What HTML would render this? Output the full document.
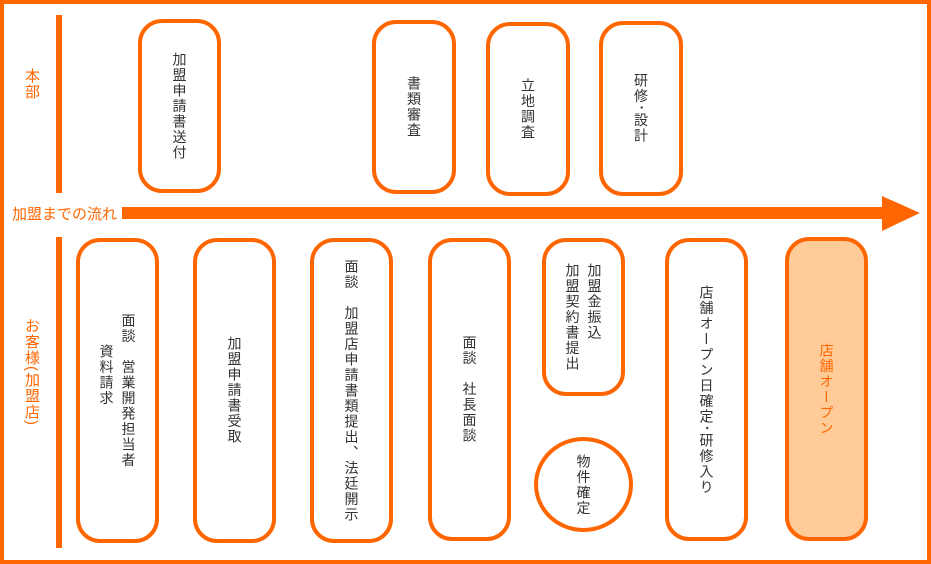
<!DOCTYPE html>
<html><head><meta charset="utf-8"><style>
html,body{margin:0;padding:0;}
body{width:931px;height:564px;position:relative;overflow:hidden;background:#fff;font-family:"Liberation Sans","Noto Sans CJK JP",sans-serif;}
.frame{position:absolute;left:0;top:0;width:931px;height:564px;box-sizing:border-box;border:4px solid #ff6600;}
.vl{position:absolute;left:56px;width:6px;background:#ff6600;}
.b{position:absolute;box-sizing:border-box;border:4px solid #ff6600;border-radius:24px;background:#fff;display:flex;align-items:center;justify-content:center;}
.t{writing-mode:vertical-rl;font-size:14px;line-height:22px;color:#333;letter-spacing:1.5px;white-space:pre;}
.lab{position:absolute;color:#ff6600;font-size:15px;writing-mode:vertical-rl;line-height:18px;letter-spacing:1px;}
</style></head><body>
<div class="frame"></div>
<div class="vl" style="top:15px;height:178px"></div>
<div class="vl" style="top:237px;height:311px"></div>
<div class="lab" style="left:22px;top:68px">本部</div>
<div class="lab" style="left:22px;top:318px">お客様(加盟店)</div>
<div style="position:absolute;left:12px;top:203px;font-size:15px;color:#ff6600;">加盟までの流れ</div>
<div style="position:absolute;left:122px;top:207px;width:762px;height:12px;background:#ff6600"></div>
<svg style="position:absolute;left:880px;top:196px" width="42" height="36"><polygon points="2,0 40,17 2,35" fill="#ff6600"/></svg>

<div class="b" style="left:138px;top:19px;width:83px;height:174px"><div class="t">加盟申請書送付</div></div>
<div class="b" style="left:372px;top:20px;width:84px;height:174px"><div class="t">書類審査</div></div>
<div class="b" style="left:486px;top:22px;width:84px;height:174px"><div class="t">立地調査</div></div>
<div class="b" style="left:599px;top:21px;width:84px;height:175px"><div class="t">研修･設計</div></div>

<div class="b" style="left:76px;top:238px;width:83px;height:305px"><div class="t">面談　営業開発担当者
　　資料請求</div></div>
<div class="b" style="left:193px;top:238px;width:83px;height:305px"><div class="t">加盟申請書受取</div></div>
<div class="b" style="left:310px;top:238px;width:83px;height:305px"><div class="t">面談　加盟店申請書類提出、法廷開示</div></div>
<div class="b" style="left:428px;top:238px;width:83px;height:303px"><div class="t">面談　社長面談</div></div>
<div class="b" style="left:542px;top:238px;width:83px;height:158px"><div class="t">加盟金振込
加盟契約書提出</div></div>
<div class="b" style="left:534px;top:437px;width:99px;height:95px;border-radius:50%"><div class="t">物件確定</div></div>
<div class="b" style="left:665px;top:238px;width:83px;height:303px"><div class="t">店舗オープン日確定･研修入り</div></div>
<div class="b" style="left:785px;top:237px;width:83px;height:304px;background:#ffcc99"><div class="t" style="color:#ff6600">店舗オープン</div></div>
</body></html>
